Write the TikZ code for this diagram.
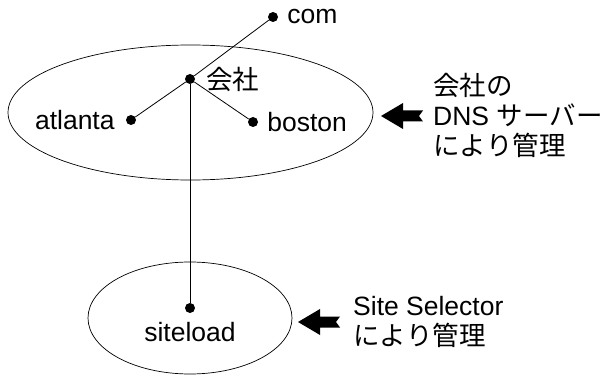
\documentclass[tikz,border=0pt]{standalone}
\usepackage{fontspec}
\setmainfont{Liberation Sans}
\newfontfamily\jpfont[Kerning=Off]{Noto Sans CJK JP}
\usetikzlibrary{shapes.geometric,positioning}

\begin{document}
\begin{tikzpicture}[
    x=1pt, y=-1pt,
    font=\fontsize{26.5}{30}\selectfont,
    dot/.style={circle, fill, inner sep=0pt, minimum size=10pt},
    zone/.style={ellipse, draw, line width=0.7pt, inner sep=0pt},
    link/.style={line width=0.8pt},
    lbl/.style={inner sep=0pt},
    note/.style={align=left, inner sep=0pt, anchor=west},
    pics/pointer/.style={code={
        \fill (0,0) -- (22,-13) -- (22,-5.5) -- (42,-5.5) -- (38,0)
              -- (42,5.5) -- (22,5.5) -- (22,13) -- cycle;}}
]
\useasboundingbox (0,0) rectangle (603,377);

% Zones
\node (dnszone) [zone, minimum width=365pt, minimum height=135pt] at (190.5,112.5) {};
\node (sszone) [zone, minimum width=204pt, minimum height=112pt] at (190,318) {};

% Domain points
\node (kaisha) [dot] at (190,79) {};
\node (com) [dot] at (273,17) {};
\node (atlanta) [dot] at (131,120) {};
\node (boston) [dot] at (253,122) {};
\node (siteload) [dot] at (190,308) {};

% Labels
\node (comlbl) [lbl, right=9pt of com] {com};
\node (kaishalbl) [lbl, right=11pt of kaisha] {\jpfont 会社};
\node (atlantalbl) [lbl, left=11pt of atlanta] {atlanta};
\node (bostonlbl) [lbl, right=9pt of boston] {boston};
\node (siteloadlbl) [lbl, below=9pt of siteload] {siteload};

% Connections
\draw[link] (kaisha) -- (com);
\draw[link] (kaisha) -- (atlanta);
\draw[link] (kaisha) -- (boston);
\draw[link] (kaisha) -- (siteload);

% Notes
\pic at (381,116) {pointer};
\node (dnsnote) [note] at (433,115) {{\jpfont 会社の}\\DNS {\jpfont サーバー}\\{\jpfont により管理}};
\pic at (298,322) {pointer};
\node (ssnote) [note] at (353,322) {Site Selector\\{\jpfont により管理}};
\end{tikzpicture}
\end{document}
